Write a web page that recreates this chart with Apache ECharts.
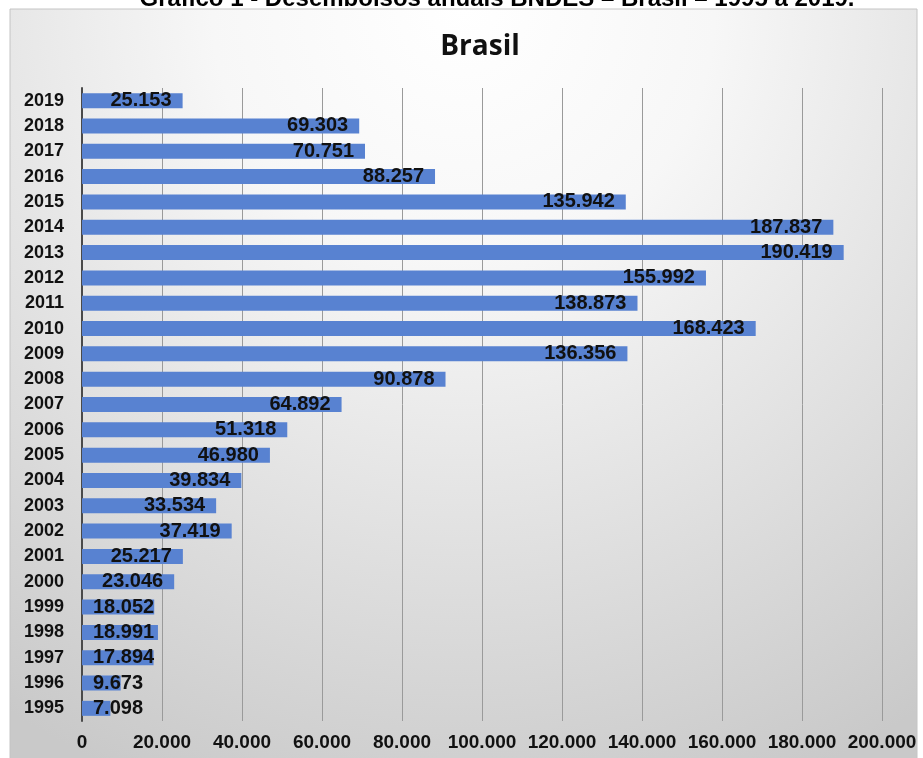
<!DOCTYPE html>
<html>
<head>
<meta charset="utf-8">
<script src="https://cdn.jsdelivr.net/npm/echarts@6/dist/echarts.min.js"></script>
<style>
html,body{margin:0;padding:0;background:#fff;}
#chart{width:923px;height:758px;}
</style>
</head>
<body>
<div id="chart"></div>
<script>
var categories = ['1995','1996','1997','1998','1999','2000','2001','2002','2003','2004','2005','2006','2007','2008','2009','2010','2011','2012','2013','2014','2015','2016','2017','2018','2019'];
var values = [7098, 9673, 17894, 18991, 18052, 23046, 25217, 37419, 33534, 39834, 46980, 51318, 64892, 90878, 136356, 168423, 138873, 155992, 190419, 187837, 135942, 88257, 70751, 69303, 25153];
var xTicks = [0, 20000, 40000, 60000, 80000, 100000, 120000, 140000, 160000, 180000, 200000];

function fmt(v) {
  var s = String(Math.round(v));
  var out = '';
  while (s.length > 3) {
    out = '.' + s.slice(-3) + out;
    s = s.slice(0, -3);
  }
  return s + out;
}

var barData = values.map(function (v) {
  return {
    value: v,
    label: v < 20000 ? { position: 'insideLeft', distance: 11 } : { position: 'insideRight', distance: 11 }
  };
});

var chart = echarts.init(document.getElementById('chart'), null, { renderer: 'canvas' });
chart.setOption({
  backgroundColor: '#ffffff',
  animation: false,
  graphic: [
    {
      type: 'rect',
      z: -10,
      shape: { x: 10, y: 9, width: 907, height: 760 },
      style: {
        fill: {
          type: 'radial', x: 0.5, y: 0.0, r: 1.1,
          colorStops: [
            { offset: 0, color: '#ffffff' },
            { offset: 0.3, color: '#f7f7f7' },
            { offset: 1, color: '#c9c9c9' }
          ]
        },
        stroke: '#c4c4c4',
        lineWidth: 1
      }
    },
    {
      type: 'text',
      z: 10,
      x: 497,
      y: 11,
      style: {
        text: 'Gráfico 1 - Desembolsos anuais BNDES – Brasil – 1995 a 2019.',
        font: 'bold 24px "Liberation Sans", Arial, sans-serif',
        fill: '#000',
        align: 'center',
        verticalAlign: 'bottom'
      }
    }
  ],
  title: {
    text: 'Brasil',
    left: 475,
    textAlign: 'center',
    top: 28,
    textStyle: { fontFamily: '"Open Sans", sans-serif', fontWeight: 'bold', fontSize: 28, color: '#111' }
  },
  grid: { left: 82, right: 41, top: 88, bottom: 37, containLabel: false },
  xAxis: {
    type: 'value',
    min: xTicks[0],
    max: xTicks[xTicks.length - 1],
    interval: 20000,
    axisLine: { show: false },
    axisTick: { show: false },
    splitLine: { show: true, lineStyle: { color: '#9a9a9a', width: 1 } },
    axisLabel: {
      margin: 12,
      fontFamily: '"Liberation Sans", Arial, sans-serif',
      fontWeight: 'bold',
      fontSize: 19,
      color: '#111',
      formatter: function (v) { return fmt(v); }
    }
  },
  yAxis: {
    type: 'category',
    data: categories,
    axisLine: { show: true, lineStyle: { color: '#4a4a4a', width: 2 } },
    axisTick: { show: false },
    axisLabel: {
      margin: 18,
      fontFamily: '"Liberation Sans", Arial, sans-serif',
      fontWeight: 'bold',
      fontSize: 18,
      color: '#111'
    }
  },
  series: [{
    type: 'bar',
    data: barData,
    barWidth: 15,
    itemStyle: { color: '#5882d1' },
    label: {
      show: true,
      fontFamily: '"Liberation Sans", Arial, sans-serif',
      fontWeight: 'bold',
      fontSize: 20,
      color: '#111',
      formatter: function (p) { return fmt(p.value); }
    }
  }]
});
</script>
</body>
</html>
